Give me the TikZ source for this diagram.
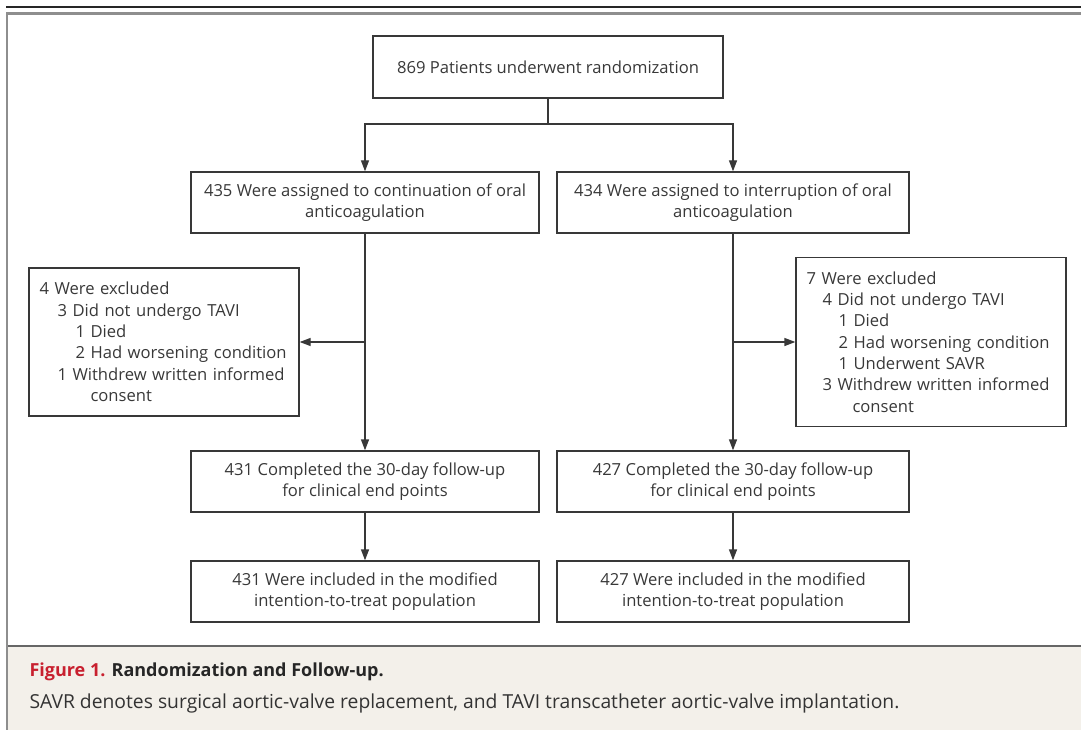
\documentclass[tikz,border=0pt]{standalone}
\usepackage{fontspec}
\setmainfont{Open Sans}
\usepackage{xcolor}
\usepackage{tikz}
\usetikzlibrary{arrows.meta}
\definecolor{nejm_red}{HTML}{C8202F}
\definecolor{box_gray}{HTML}{383838}
\definecolor{frame_gray}{HTML}{8E8E8E}
\definecolor{caption_beige}{HTML}{F3F0EA}

\begin{document}
\begin{tikzpicture}[x=1pt, y=-1pt,
    >={Triangle[length=11pt, width=8pt]},
    box/.style={draw=box_gray, line width=1.3pt, align=center, inner sep=0pt,
      minimum height=61pt, font=\fontsize{16.6}{21}\selectfont, text=box_gray},
    exclbox/.style={draw=box_gray, line width=1.3pt, align=left, inner xsep=10.5pt,
      inner ysep=0pt, text width=249pt, font=\fontsize{16.6}{21.3}\selectfont, text=box_gray},
    arrow/.style={->, draw=box_gray, line width=1.3pt}]
      \useasboundingbox (0,0) rectangle (1081,730);

      \fill[caption_beige] (8,647) rectangle (1081,730);
      \draw[black!85, line width=1.6pt] (6,7) -- (1081,7);
      \draw[frame_gray, line width=2.5pt] (7,730) -- (7,13.5) -- (1081,13.5);
      \draw[black!60, line width=2pt] (8,646) -- (1081,646);

      \node[box, minimum width=350pt, minimum height=62pt] (rand) at (548,67)
        {869 Patients underwent randomization};
      \node[box, minimum width=348pt] (contL) at (365,202.5)
        {435 Were assigned to continuation of oral\\anticoagulation};
      \node[box, minimum width=352pt] (intR) at (733,202.5)
        {434 Were assigned to interruption of oral\\anticoagulation};

      \node[exclbox, minimum height=148pt] (exclL) at (164,342)
        {4 Were excluded\\
         \hspace*{18pt}3 Did not undergo TAVI\\
         \hspace*{36pt}1 Died\\
         \hspace*{36pt}2 Had worsening condition\\
         \hspace*{18pt}1 Withdrew written informed\\
         \hspace*{51pt}consent};
      \node[exclbox, minimum height=169pt] (exclR) at (931,342)
        {7 Were excluded\\
         \hspace*{16pt}4 Did not undergo TAVI\\
         \hspace*{32pt}1 Died\\
         \hspace*{32pt}2 Had worsening condition\\
         \hspace*{32pt}1 Underwent SAVR\\
         \hspace*{16pt}3 Withdrew written informed\\
         \hspace*{46pt}consent};

      \node[box, minimum width=348pt] (followL) at (365,481.5)
        {431 Completed the 30-day follow-up\\for clinical end points};
      \node[box, minimum width=352pt] (followR) at (733,481.5)
        {427 Completed the 30-day follow-up\\for clinical end points};
      \node[box, minimum width=348pt] (mittL) at (365,591.5)
        {431 Were included in the modified\\intention-to-treat population};
      \node[box, minimum width=352pt] (mittR) at (733,591.5)
        {427 Were included in the modified\\intention-to-treat population};

      \coordinate (split) at (548,124);
      \coordinate (branchL) at (contL.south |- exclL.east);
      \coordinate (branchR) at (intR.south |- exclR.west);

      \draw[draw=box_gray, line width=1.3pt] (rand.south) -- (split);
      \draw[arrow] (split) -| (contL.north);
      \draw[arrow] (split) -| (intR.north);

      \draw[arrow] (contL.south) -- (followL.north);
      \draw[arrow] (intR.south) -- (followR.north);
      \draw[arrow] (branchL) -- (exclL.east);
      \draw[arrow] (branchR) -- (exclR.west);

      \draw[arrow] (followL.south) -- (mittL.north);
      \draw[arrow] (followR.south) -- (mittR.north);

      \node[anchor=base west, font=\fontsize{18}{20}\bfseries, text=black!85] (figtitle) at (26,676)
        {\textcolor{nejm_red}{Figure 1.} Randomization and Follow-up.};
      \node[anchor=base west, font=\fontsize{19.3}{20}\selectfont, text=black!80] (figlegend) at (26,708)
        {SAVR denotes surgical aortic-valve replacement, and TAVI transcatheter aortic-valve implantation.};
    \end{tikzpicture}
\end{document}
